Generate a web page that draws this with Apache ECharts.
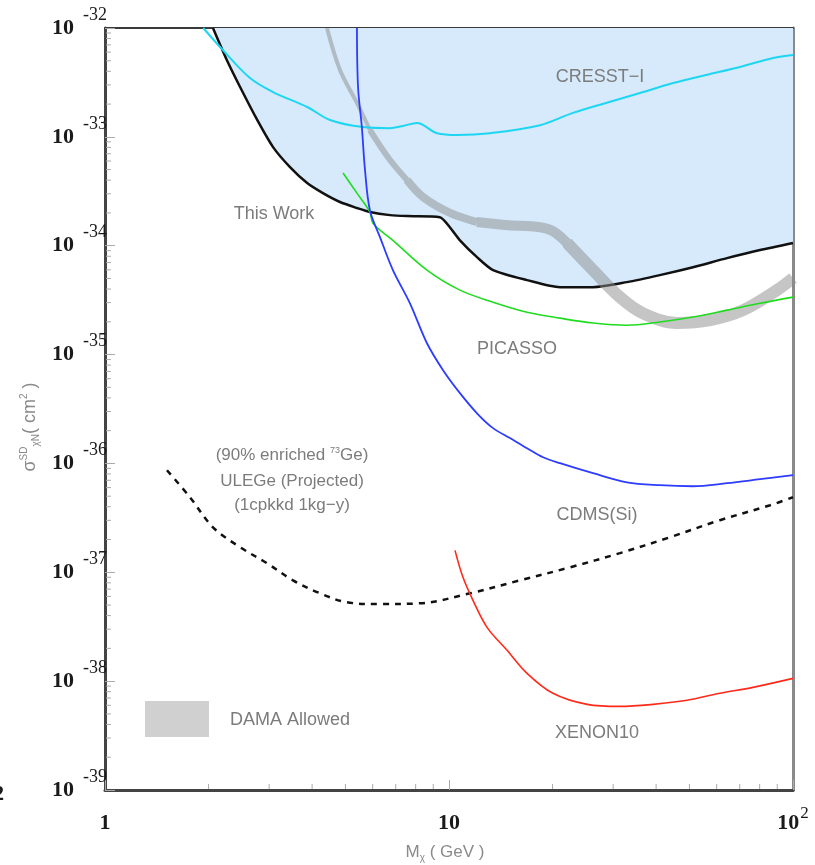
<!DOCTYPE html>
<html>
<head>
<meta charset="utf-8">
<script src="https://cdn.jsdelivr.net/npm/echarts@6/dist/echarts.min.js"></script>
<style>html,body{margin:0;padding:0;background:#fff}#c{width:815px;height:865px}</style>
</head>
<body>
<div id="c"></div>
<script>
// ---- data: [mass (GeV), sigma (cm^2)] ----
const thisWork = [[2.06,1e-32],[2.26,5.08e-33],[2.47,2.87e-33],[2.77,1.43e-33],[3.08,8.05e-34],[3.45,5.27e-34],[3.87,3.76e-34],[4.30,3.04e-34],[4.82,2.52e-34],[5.40,2.22e-34],[5.89,2.04e-34],[6.74,1.91e-34],[7.55,1.87e-34],[9.4,1.83e-34],[10.1,1.45e-34],[10.76,1.12e-34],[12.06,7.85e-35],[13.43,5.97e-35],[16.86,4.83e-35],[21.02,4.16e-35],[26.22,4.16e-35],[32.9,4.63e-35],[41.0,5.37e-35],[51.2,6.35e-35],[64.3,7.69e-35],[80.2,9.12e-35],[100,1.06e-34]];
const cresst = [[1.93,1e-32],[2.20,6.28e-33],[2.64,3.47e-33],[3.08,2.58e-33],[3.87,1.88e-33],[4.51,1.43e-33],[5.62,1.23e-33],[6.74,1.20e-33],[7.35,1.26e-33],[8.07,1.34e-33],[9.23,1.08e-33],[10.55,1.04e-33],[13.16,1.08e-33],[18.39,1.28e-33],[22.93,1.66e-33],[28.6,2.05e-33],[35.9,2.53e-33],[44.8,3.12e-33],[55.8,3.70e-33],[70.1,4.39e-33],[87.5,5.30e-33],[100,5.65e-33]];
const picasso = [[4.92,4.65e-34],[5.40,3.04e-34],[5.89,2.04e-34],[6.01,1.61e-34],[6.87,1.12e-34],[8.63,5.97e-35],[10.76,3.91e-35],[13.43,3.03e-35],[16.86,2.45e-35],[21.02,2.16e-35],[26.22,1.95e-35],[32.9,1.86e-35],[41.0,1.99e-35],[51.2,2.21e-35],[64.3,2.56e-35],[80.2,2.96e-35],[100,3.37e-35]];
const cdms = [[5.40,1e-32],[5.44,2.87e-33],[5.58,1.23e-33],[5.70,4.95e-34],[5.89,2.12e-34],[6.30,1.20e-34],[6.87,5.97e-35],[7.70,2.96e-35],[8.63,1.27e-35],[9.61,7.19e-36],[10.76,4.42e-36],[12.06,2.89e-36],[13.43,2.11e-36],[15.04,1.71e-36],[16.86,1.38e-36],[18.76,1.14e-36],[21.02,1.005e-36],[26.22,8.13e-37],[32.9,6.71e-37],[41.0,6.31e-37],[51.2,6.17e-37],[64.3,6.58e-37],[80.2,7.16e-37],[100,7.80e-37]];
const ulege = [[1.514,8.66e-37],[1.766,4.89e-37],[2.06,2.59e-37],[2.47,1.70e-37],[2.96,1.21e-37],[3.52,8.43e-38],[4.22,6.41e-38],[5.05,5.30e-38],[6.30,5.10e-38],[8.24,5.19e-38],[11.51,6.41e-38],[16.08,8.43e-38],[22.48,1.11e-37],[31.4,1.50e-37],[43.9,2.10e-37],[61.3,3.01e-37],[85.8,4.13e-37],[100,4.89e-37]];
const xenon = [[10.41,1.59e-37],[10.98,8.99e-38],[11.74,5.53e-38],[12.9,3.12e-38],[14.75,1.92e-38],[16.86,1.18e-38],[20.05,7.73e-39],[25.2,6.12e-39],[31.4,5.86e-39],[39.2,6.12e-39],[49.2,6.67e-39],[61.3,7.73e-39],[76.5,8.77e-39],[100,1.06e-38]];
// DAMA allowed band centre line, split where the band widens
const dama1 = [[4.42,1e-32],[4.82,4.11e-33],[5.40,2.05e-33],[5.89,1.155e-33]];
const dama2 = [[5.89,1.155e-33],[6.74,6.12e-34],[7.55,4.01e-34]];
const dama3 = [[7.55,4.01e-34],[8.40,2.80e-34],[10.07,2.0e-34],[12.06,1.65e-34]];
const dama4 = [[12.06,1.65e-34],[14.6,1.55e-34],[18.39,1.48e-34],[20.05,1.36e-34],[22.03,1.06e-34]];
const dama5 = [[22.03,1.06e-34],[26.22,5.97e-35],[31.4,3.37e-35],[36.6,2.40e-35],[46.0,1.95e-35],[57.4,2.07e-35],[71.6,2.56e-35],[89.8,3.91e-35],[100,5.04e-35]];

const xMin = 1, xMax = 100, yMin = 1e-39, yMax = 1e-32;
const xTickLabels = {1:'{b|1}', 10:'{b|10}', 100:'{b|10}{s|2}'};

// The log axis cannot hold values as small as 1e-39, so sigma is plotted in units of 1e-39 cm^2.
const UNIT = 1e-39, UNIT_EXP = -39;
const scaled = arr => arr.map(p => [p[0], p[1] / UNIT]);

// minor tick positions (axis structure)
const xMinor = [];
for (const d of [1,10]) for (let m = 2; m <= 9; m++) xMinor.push([m*d, yMin / UNIT]);
const yMinor = [];
for (let k = 0; k <= 6; k++) for (let m = 2; m <= 9; m++) yMinor.push([xMin, m*Math.pow(10,k)]);

const chart = echarts.init(document.getElementById('c'));
const annoFont = '"Liberation Sans", Arial, sans-serif';
const annoColor = '#7c7c7c';

function txt(text, x, y, opts) {
  return {type:'text', x:x, y:y, z:50, style:Object.assign({text:text, fill:annoColor, font:'18px '+annoFont, align:'center', verticalAlign:'middle'}, (opts||{}))};
}
const serif = '"Liberation Serif", "Times New Roman", serif';
const lineBase = {type:'line', symbol:'none', smooth:0.35, z:4};
const damaColor = 'rgba(140,140,140,0.5)';
function damaSeries(arr, w) {
  return Object.assign({}, lineBase, {name:'DAMA', data:scaled(arr), z:3, lineStyle:{color:damaColor, width:w, cap:'butt'}});
}

const option = {
  backgroundColor:'#fff',
  animation:false,
  grid:{left:105, right:22, top:28, bottom:75, outerBoundsMode:'none'},
  xAxis:[{
    type:'log', logBase:10, min:xMin, max:xMax, splitNumber:2,
    axisLine:{show:true, lineStyle:{color:'#444', width:3}},
    axisTick:{show:true, inside:true, length:10, lineStyle:{color:'#aaa', width:1}},
    splitLine:{show:false}, minorTick:{show:false},
    axisLabel:{
      margin:15, showMinLabel:true, showMaxLabel:true, hideOverlap:false,
      formatter:function(v){ const k = Math.round(v); return xTickLabels[k] || ''; },
      rich:{
        b:{fontFamily:serif, fontWeight:'bold', fontSize:22, lineHeight:36, color:'#1a1a1a'},
        s:{fontFamily:serif, fontSize:17, lineHeight:14, verticalAlign:'top', color:'#1a1a1a', padding:[0,0,0,1]}
      }
    }
  },{
    type:'log', logBase:10, min:xMin, max:xMax, position:'top',
    axisLine:{show:true, lineStyle:{color:'#3a3a3a', width:2}},
    axisTick:{show:false}, axisLabel:{show:false}, splitLine:{show:false}
  }],
  yAxis:[{
    type:'log', logBase:10, min:yMin/UNIT, max:yMax/UNIT, splitNumber:7,
    axisLine:{show:true, lineStyle:{color:'#444', width:3}},
    axisTick:{show:true, inside:true, length:10, lineStyle:{color:'#aaa', width:1}},
    splitLine:{show:false},
    axisLabel:{
      margin:-2, showMinLabel:true, showMaxLabel:true, hideOverlap:false,
      formatter:function(v){ const e = Math.round(Math.log10(v)) + UNIT_EXP; return '{b|10}{s|' + e + '}'; },
      rich:{
        b:{fontFamily:serif, fontWeight:'bold', fontSize:22, lineHeight:44, color:'#1a1a1a'},
        s:{fontFamily:serif, fontSize:18, lineHeight:14, verticalAlign:'top', color:'#1a1a1a', padding:[0,0,0,9]}
      }
    }
  },{
    type:'log', logBase:10, min:yMin/UNIT, max:yMax/UNIT, position:'right',
    axisLine:{show:true, lineStyle:{color:'#8a8a8a', width:3}},
    axisTick:{show:false}, axisLabel:{show:false}, splitLine:{show:false}
  }],
  series:[
    Object.assign({}, lineBase, {name:'This Work', data:scaled(thisWork), smooth:0.25, z:2,
     lineStyle:{color:'#111', width:2.5}, areaStyle:{color:'#d6eafb', opacity:1, origin:'end'}}),
    damaSeries(dama1, 4),
    damaSeries(dama2, 6),
    damaSeries(dama3, 8),
    damaSeries(dama4, 10),
    damaSeries(dama5, 12),
    Object.assign({}, lineBase, {name:'CRESST-I', data:scaled(cresst), lineStyle:{color:'#1fd6f2', width:2}}),
    Object.assign({}, lineBase, {name:'PICASSO', data:scaled(picasso), lineStyle:{color:'#1fdc1f', width:1.6}}),
    Object.assign({}, lineBase, {name:'CDMS(Si)', data:scaled(cdms), lineStyle:{color:'#2d3cff', width:1.8}}),
    Object.assign({}, lineBase, {name:'ULEGe', data:scaled(ulege), lineStyle:{color:'#111', width:2.5, type:[6,6]}}),
    Object.assign({}, lineBase, {name:'XENON10', data:scaled(xenon), lineStyle:{color:'#ff2a1a', width:1.6}}),
    {name:'xMinorTicks', type:'custom', data:xMinor, z:10, clip:false, silent:true,
     renderItem:function(params, api){
       const p = api.coord([api.value(0), api.value(1)]);
       return {type:'line', shape:{x1:p[0], y1:p[1]-1, x2:p[0], y2:p[1]-6}, style:{stroke:'#aaa', lineWidth:1}};
     }},
    {name:'yMinorTicks', type:'custom', data:yMinor, z:10, clip:false, silent:true,
     renderItem:function(params, api){
       const p = api.coord([api.value(0), api.value(1)]);
       return {type:'line', shape:{x1:p[0]+1, y1:p[1], x2:p[0]+6, y2:p[1]}, style:{stroke:'#aaa', lineWidth:1}};
     }}
  ],
  graphic:[
    txt('CRESST\u2212I', 600, 77),
    txt('This Work', 274, 214),
    txt('PICASSO', 517, 349),
    {type:'text', x:292, y:455, z:50, style:{text:'(90% enriched {sup|73}Ge)', fill:annoColor, font:'17px '+annoFont, align:'center', verticalAlign:'middle',
      rich:{sup:{fontSize:9, fill:annoColor, verticalAlign:'top', lineHeight:10, fontFamily:annoFont}}}},
    txt('ULEGe (Projected)', 292, 481, {font:'17px '+annoFont}),
    txt('(1cpkkd 1kg\u2212y)', 292, 505, {font:'17px '+annoFont}),
    txt('CDMS(Si)', 597, 515),
    txt('XENON10', 597, 733),
    {type:'rect', shape:{x:145, y:701, width:64, height:36}, style:{fill:'#d0d0d0'}, z:50},
    txt('DAMA Allowed', 230, 720, {align:'left'}),
    {type:'text', x:445, y:852, z:50, style:{text:'M{sub|\u03c7} ( GeV )', fill:'#8a8a8a', font:'17px '+annoFont, align:'center', verticalAlign:'middle',
      rich:{sub:{fontSize:10, fill:'#8a8a8a', verticalAlign:'bottom', lineHeight:22, fontFamily:annoFont}}}},
    {type:'text', x:30, y:427, rotation:Math.PI/2, z:50, style:{text:'\u03c3{sup|SD}{sub|\u03c7N}( cm{sup|2} )', fill:'#8a8a8a', font:'18px '+annoFont, align:'center', verticalAlign:'middle',
      rich:{sup:{fontSize:10, fill:'#8a8a8a', verticalAlign:'top', lineHeight:22, fontFamily:annoFont},
            sub:{fontSize:10, fill:'#8a8a8a', verticalAlign:'bottom', lineHeight:22, fontFamily:annoFont}}}},
    {type:'text', x:-6, y:795, z:50, style:{text:'2', fill:'#1a1a1a', font:'bold 20px "Liberation Serif", serif', align:'left', verticalAlign:'middle'}}
  ]
};
chart.setOption(option);
</script>
</body>
</html>
